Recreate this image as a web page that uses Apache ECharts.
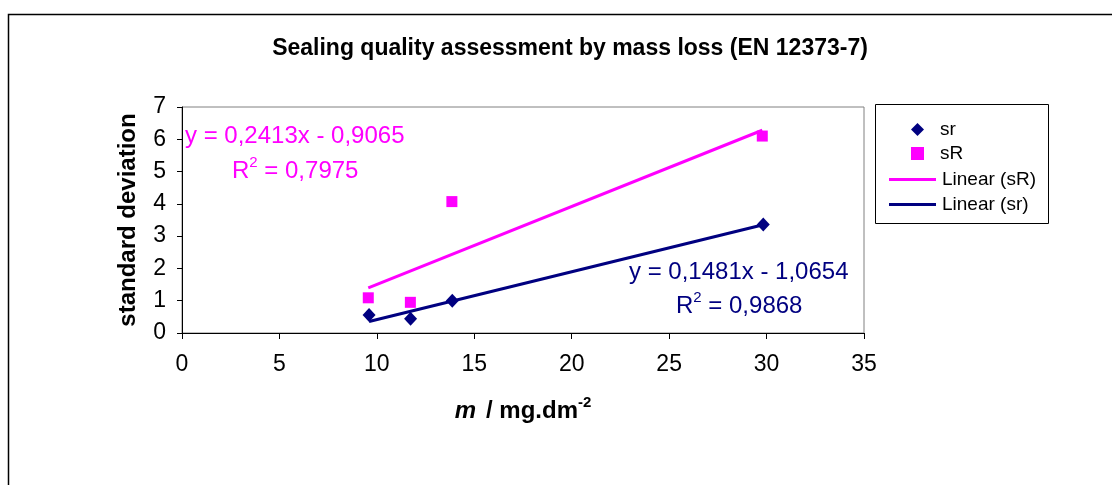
<!DOCTYPE html>
<html><head><meta charset="utf-8">
<script src="https://cdn.jsdelivr.net/npm/echarts@6/dist/echarts.min.js"></script>
<style>html,body{margin:0;padding:0;background:#fff}#c{width:1112px;height:485px}</style>
</head><body><div id="c"></div>
<script>
// Data
const srX = [9.6, 11.73, 13.87, 29.83];
const srY = [0.56, 0.44, 1.0, 3.36];
const sRX = [9.56, 11.72, 13.85, 29.78];
const sRY = [1.09, 0.95, 4.07, 6.1];
// Trendline coefficients as printed on the chart
const fitSr = {slope: 0.1481, intercept: -1.0654, r2: '0,9868', eq: 'y = 0,1481x - 1,0654'};
const fitSR = {slope: 0.2413, intercept: -0.9065, r2: '0,7975', eq: 'y = 0,2413x - 0,9065'};
const xTicks = {min: 0, max: 35, interval: 5};
const yTicks = {min: 0, max: 7, interval: 1};

const FONT = '"Liberation Sans", Arial, sans-serif';
const NAVY = '#000080', MAG = '#FF00FF';

function pts(xs, ys){ return xs.map((x,i)=>[x, ys[i]]); }
function fitLine(xs, f){
  const a = Math.min(...xs), b = Math.max(...xs);
  return [[a, f.slope*a + f.intercept], [b, f.slope*b + f.intercept]];
}
function r2Text(val, color){
  return {
    text: '{a|R}{s|2}{a| = ' + val + '}',
    rich: {a: {fill: color, fontSize: 24, fontFamily: FONT, verticalAlign: 'bottom', lineHeight: 28},
           s: {fill: color, fontSize: 15, fontFamily: FONT, verticalAlign: 'top', lineHeight: 28}}
  };
}
const LINE_ICON = 'path://M0,0 L47,0 L47,3 L0,3 Z';
const legendText = {color: '#000', fontSize: 19, fontFamily: FONT};

const chart = echarts.init(document.getElementById('c'), null, {renderer:'canvas'});
chart.setOption({
  animation: false,
  backgroundColor: '#fff',
  textStyle: {fontFamily: FONT},
  title: {
    text: 'Sealing quality assessment by mass loss (EN 12373-7)',
    left: 565, textAlign: 'center', top: 32,
    textStyle: {fontFamily: FONT, fontSize: 23, fontWeight: 'bold', color: '#000'}
  },
  grid: {left: 182, top: 107, right: 248, bottom: 152, show: true, borderColor: '#808080', borderWidth: 1, containLabel: false},
  xAxis: {
    type: 'value', min: xTicks.min, max: xTicks.max, interval: xTicks.interval,
    axisLine: {show: true, lineStyle: {color: '#000', width: 1}},
    axisTick: {show: true, length: 6, lineStyle: {color: '#000'}},
    splitLine: {show: false},
    axisLabel: {color: '#000', fontSize: 23, margin: 20, fontFamily: FONT},
    name: '{i|m} {b| / mg.dm}{s|-2}',
    nameLocation: 'middle', nameGap: 62,
    nameTextStyle: {
      color: '#000',
      rich: {
        i: {fontFamily: FONT, fontSize: 24, fontWeight: 'bold', fontStyle: 'italic', color: '#000', verticalAlign: 'bottom', lineHeight: 28},
        b: {fontFamily: FONT, fontSize: 24, fontWeight: 'bold', color: '#000', verticalAlign: 'bottom', lineHeight: 28},
        s: {fontFamily: FONT, fontSize: 15, fontWeight: 'bold', color: '#000', verticalAlign: 'top', lineHeight: 28}
      }
    }
  },
  yAxis: {
    type: 'value', min: yTicks.min, max: yTicks.max, interval: yTicks.interval,
    axisLine: {show: true, lineStyle: {color: '#000', width: 1}},
    axisTick: {show: true, length: 5, lineStyle: {color: '#000'}},
    splitLine: {show: false},
    axisLabel: {color: '#000', fontSize: 23, margin: 16, fontFamily: FONT},
    name: 'standard deviation',
    nameLocation: 'middle', nameGap: 42,
    nameTextStyle: {color: '#000', fontSize: 24, fontWeight: 'bold', fontFamily: FONT}
  },
  legend: [
    {
      orient: 'vertical', left: 906, top: 115,
      itemWidth: 13, itemHeight: 13, itemGap: 5,
      textStyle: Object.assign({padding: [0,0,0,11]}, legendText),
      data: [
        {name: 'sr', icon: 'diamond'},
        {name: 'sR', icon: 'rect'}
      ]
    },
    {
      orient: 'vertical', left: 884, top: 165,
      itemWidth: 49, itemHeight: 3, itemGap: 6,
      textStyle: legendText,
      data: [
        {name: 'Linear (sR)', icon: LINE_ICON},
        {name: 'Linear (sr)', icon: LINE_ICON}
      ]
    }
  ],
  graphic: [
    {type: 'rect', left: 6, top: 12, shape: {width: 1120, height: 490}, style: {fill: 'none', stroke: '#000', lineWidth: 1.5}, silent: true},
    {type: 'rect', left: 873, top: 102, shape: {width: 173, height: 119}, style: {fill: 'none', stroke: '#000', lineWidth: 1}, silent: true},
    {type: 'text', left: 185, top: 124, style: {text: fitSR.eq, fill: MAG, font: '24px ' + FONT}},
    {type: 'text', left: 232, top: 155, style: r2Text(fitSR.r2, MAG)},
    {type: 'text', left: 629, top: 260, style: {text: fitSr.eq, fill: NAVY, font: '24px ' + FONT}},
    {type: 'text', left: 676, top: 290, style: r2Text(fitSr.r2, NAVY)}
  ],
  series: [
    {name: 'Linear (sR)', type: 'line', data: fitLine(sRX, fitSR), symbol: 'none', showSymbol: false,
     lineStyle: {color: MAG, width: 3}, itemStyle: {color: MAG}, z: 2},
    {name: 'Linear (sr)', type: 'line', data: fitLine(srX, fitSr), symbol: 'none', showSymbol: false,
     lineStyle: {color: NAVY, width: 3}, itemStyle: {color: NAVY}, z: 2},
    {name: 'sr', type: 'scatter', data: pts(srX, srY), symbol: 'diamond', symbolSize: [13, 14],
     itemStyle: {color: NAVY, opacity: 1}, z: 3},
    {name: 'sR', type: 'scatter', data: pts(sRX, sRY), symbol: 'rect', symbolSize: 11,
     itemStyle: {color: MAG, opacity: 1}, z: 3}
  ]
});
</script></body></html>
